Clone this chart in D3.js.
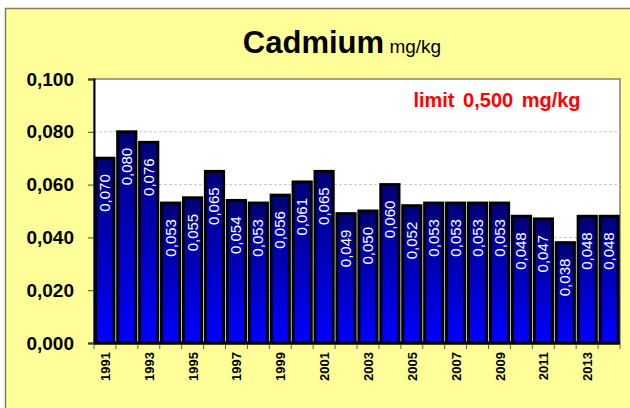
<!DOCTYPE html>
<html>
<head>
<meta charset="utf-8">
<script src="https://cdn.jsdelivr.net/npm/d3@7"></script>
<style>
  body { margin: 0; background: #fff; }
  text { font-family: Arial, "Liberation Sans", sans-serif; }
</style>
</head>
<body>
<div id="chart-container"></div>
<script>
const years = ["1991","1992","1993","1994","1995","1996","1997","1998","1999","2000","2001","2002",
               "2003","2004","2005","2006","2007","2008","2009","2010","2011","2012","2013","2014"];
const values = [0.070, 0.080, 0.076, 0.053, 0.055, 0.065, 0.054, 0.053, 0.056, 0.061, 0.065, 0.049,
                0.050, 0.060, 0.052, 0.053, 0.053, 0.053, 0.053, 0.048, 0.047, 0.038, 0.048, 0.048];
const yTicks = [0, 0.02, 0.04, 0.06, 0.08, 0.1];
const shownYears = ["1991","1993","1995","1997","1999","2001","2003","2005","2007","2009","2011","2013"];

const fmt = v => d3.format(".3f")(v).replace(".", ",");

const W = 630, H = 408;
const margin = {top: 79, right: 10, bottom: 65, left: 94},
      width = W - margin.left - margin.right,
      height = H - margin.top - margin.bottom;

const root = d3.select("#chart-container")
  .append("svg")
    .attr("width", W)
    .attr("height", H);

const defs = root.append("defs");
const grad = defs.append("linearGradient")
    .attr("id", "barGrad")
    .attr("x1", 0).attr("y1", 0).attr("x2", 0).attr("y2", 1);
grad.append("stop").attr("offset", "0%").attr("stop-color", "#000078");
grad.append("stop").attr("offset", "100%").attr("stop-color", "#0000ff");

// outer yellow frame
root.append("rect")
    .attr("x", 5.5).attr("y", 8.5)
    .attr("width", W + 10).attr("height", H + 10)
    .style("fill", "#ffff99")
    .style("stroke", "#7f7f5f")
    .style("stroke-width", 1.5);

// title
const title = root.append("text")
    .attr("x", 342)
    .attr("y", 53)
    .style("text-anchor", "middle");
title.append("tspan").text("Cadmium")
    .style("font-size", "31px").style("font-weight", "bold");
title.append("tspan").text(" mg/kg")
    .style("font-size", "19px");

const svg = root.append("g")
    .attr("transform", "translate(" + margin.left + "," + margin.top + ")");

const x = d3.scaleBand()
  .range([0, width])
  .domain(years)
  .paddingInner(0.17)
  .paddingOuter(0.08);

const y = d3.scaleLinear()
  .range([height, 0])
  .domain([0, 0.1]);

// plot area
svg.append("rect")
    .attr("width", width).attr("height", height)
    .style("fill", "#fff")
    .style("stroke", "#808080")
    .style("stroke-width", 1.5);

// grid
svg.selectAll(".grid")
  .data(yTicks.filter(d => d > 0 && d < 0.1))
  .enter()
  .append("line")
    .attr("x1", 0).attr("x2", width)
    .attr("y1", d => y(d)).attr("y2", d => y(d))
    .style("stroke", "#c8c8c8")
    .style("stroke-dasharray", "3,2");

// y axis
const yAxis = svg.append("g")
  .call(d3.axisLeft(y).tickValues(yTicks).tickSize(6).tickPadding(14).tickFormat(fmt));
yAxis.select(".domain").style("stroke", "#000").style("stroke-width", 2);
yAxis.selectAll(".tick line").style("stroke", "#404040");
yAxis.selectAll("text")
  .style("font-size", "19px")
  .style("font-weight", "bold")
  .style("fill", "#000");

// bars
svg.selectAll(".bar")
  .data(values)
  .enter()
  .append("rect")
    .attr("x", (d, i) => x(years[i]))
    .attr("y", d => y(d))
    .attr("width", x.bandwidth())
    .attr("height", d => height - y(d))
    .style("fill", "url(#barGrad)")
    .style("stroke", "#000")
    .style("stroke-width", 3);

// value labels
svg.selectAll(".val")
  .data(values)
  .enter()
  .append("text")
    .attr("transform", (d, i) => "translate(" + (x(years[i]) + x.bandwidth() / 2 + 5) + "," + (y(d) + 16) + ") rotate(-90)")
    .style("text-anchor", "end")
    .style("font-size", "15px")
    .style("fill", "#fff")
    .text(d => fmt(d));

// x axis baseline and ticks between categories
const step = x.step();
const boundaries = d3.range(years.length + 1).map(i => i * width / years.length);
svg.selectAll(".xtick")
  .data(boundaries)
  .enter()
  .append("line")
    .attr("x1", d => d).attr("x2", d => d)
    .attr("y1", height).attr("y2", height + 6)
    .style("stroke", "#606060");

svg.append("line")
    .attr("x1", 0).attr("x2", width)
    .attr("y1", height).attr("y2", height)
    .style("stroke", "#000")
    .style("stroke-width", 3);

svg.selectAll(".xlab")
  .data(shownYears)
  .enter()
  .append("text")
    .attr("transform", d => "translate(" + (x(d) + x.bandwidth() / 2 + 5) + "," + (height + 9) + ") rotate(-90)")
    .style("text-anchor", "end")
    .style("font-size", "13px")
    .style("font-weight", "bold")
    .text(d => d);

// limit note
svg.append("text")
    .attr("x", 403)
    .attr("y", 28)
    .style("text-anchor", "middle")
    .style("font-size", "20px")
    .style("font-weight", "bold")
    .style("word-spacing", "3px")
    .style("fill", "#ff0000")
    .text("limit 0,500 mg/kg");
</script>
</body>
</html>
